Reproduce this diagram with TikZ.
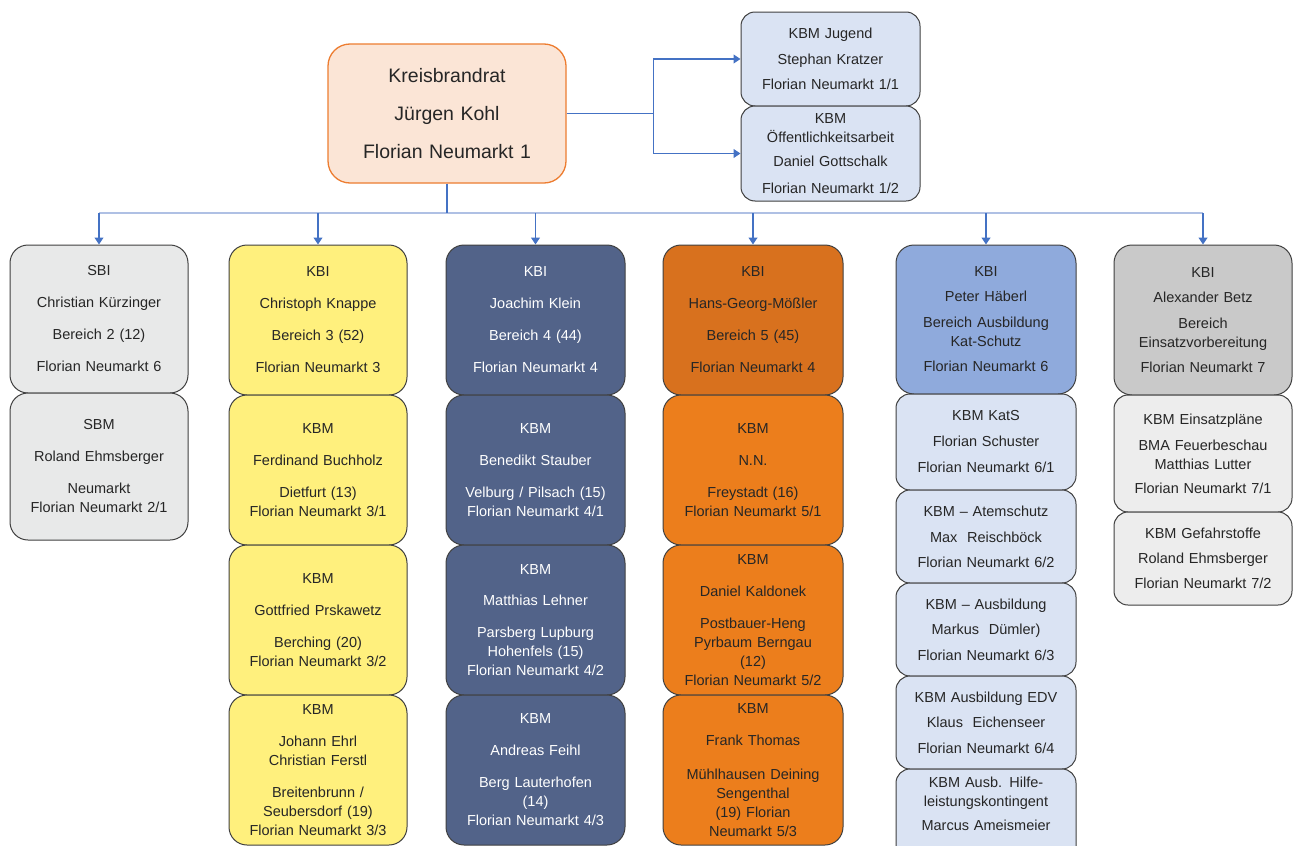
\documentclass[tikz,border=0pt]{standalone}
\usepackage{fontspec}
\setmainfont{Liberation Sans}
\usetikzlibrary{arrows.meta}
\definecolor{txt}{HTML}{262626}
\definecolor{edge}{HTML}{404040}
\definecolor{rootfill}{HTML}{FBE5D6}
\definecolor{rootedge}{HTML}{ED7D31}
\definecolor{lblue}{HTML}{DAE3F3}
\definecolor{mblue}{HTML}{8FAADC}
\definecolor{dblue}{HTML}{526389}
\definecolor{lgray}{HTML}{E8E9E9}
\definecolor{mgray}{HTML}{C9C9C9}
\definecolor{vlgray}{HTML}{EDEDED}
\definecolor{yel}{HTML}{FFF07D}
\definecolor{orA}{HTML}{D8711E}
\definecolor{orB}{HTML}{EC7E1C}
\definecolor{conncol}{HTML}{4472C4}
\definecolor{buscol}{HTML}{AFC0E4}
\tikzset{
  box/.style={draw=edge,line width=1pt,rounded corners=18pt,inner sep=0pt,align=center,
    text=txt,font=\fontsize{14.5}{19}\selectfont},
  sbox/.style={box,rounded corners=14pt},
  conn/.style={draw=conncol,line width=1.2pt},
  arr/.style={conn,-{Triangle[width=9pt,length=7pt]}},
  busline/.style={draw=buscol,line width=1.4pt}
}
\newcommand\bx[7]{%
  \pgfmathsetmacro\bxw{#5-#3}\pgfmathsetmacro\bxh{#6-#4}%
  \pgfmathsetmacro\bxx{(#3+#5)/2}\pgfmathsetmacro\bxy{(#4+#6)/2}%
  \pgfmathsetmacro\bxt{#5-#3-8}%
  \node[box,#2,minimum width=\bxw pt,minimum height=\bxh pt,text width=\bxt pt] (#1) at (\bxx,\bxy) {#7};}
\begin{document}
\begin{tikzpicture}[x=1pt,y=-1pt]
\path[use as bounding box,clip] (0,0) rectangle (1296,846);
\fill[white] (0,0) rectangle (1296,846);
% top
\bx{root}{fill=rootfill,draw=rootedge,line width=1.3pt,rounded corners=22pt,font=\fontsize{19.5}{24}\selectfont}{328}{44}{566}{183}{Kreisbrandrat\\[14pt]Jürgen Kohl\\[14pt]Florian Neumarkt 1}
\bx{jug}{sbox,fill=lblue}{741}{12}{920}{106}{KBM Jugend\\[7pt]Stephan Kratzer\\[6pt]Florian Neumarkt 1/1}
\bx{oef}{sbox,fill=lblue}{741}{106}{920}{201}{KBM\\Öffentlichkeitsarbeit\\[5pt]Daniel Gottschalk\\[8pt]Florian Neumarkt 1/2}
% column 1
\bx{c1a}{fill=lgray}{10}{245}{188}{393}{SBI\\[13pt]Christian Kürzinger\\[13pt]Bereich 2 (12)\\[13pt]Florian Neumarkt 6}
\bx{c1b}{fill=lgray}{10}{393}{188}{540}{SBM\\[13pt]Roland Ehmsberger\\[13pt]Neumarkt\\Florian Neumarkt 2/1}
% column 2
\bx{c2a}{fill=yel}{229}{245}{407}{395}{KBI\\[13pt]Christoph Knappe\\[13pt]Bereich 3 (52)\\[13pt]Florian Neumarkt 3}
\bx{c2b}{fill=yel}{229}{395}{407}{545}{KBM\\[13pt]Ferdinand Buchholz\\[13pt]Dietfurt (13)\\Florian Neumarkt 3/1}
\bx{c2c}{fill=yel}{229}{545}{407}{695}{KBM\\[13pt]Gottfried Prskawetz\\[13pt]Berching (20)\\Florian Neumarkt 3/2}
\bx{c2d}{fill=yel}{229}{695}{407}{845}{KBM\\[13pt]Johann Ehrl\\Christian Ferstl\\[13pt]Breitenbrunn /\\Seubersdorf (19)\\Florian Neumarkt 3/3}
% column 3
\bx{c3a}{fill=dblue,text=white}{446}{245}{625}{395}{KBI\\[13pt]Joachim Klein\\[13pt]Bereich 4 (44)\\[13pt]Florian Neumarkt 4}
\bx{c3b}{fill=dblue,text=white}{446}{395}{625}{545}{KBM\\[13pt]Benedikt Stauber\\[13pt]Velburg / Pilsach (15)\\Florian Neumarkt 4/1}
\bx{c3c}{fill=dblue,text=white}{446}{545}{625}{695}{KBM\\[12pt]Matthias Lehner\\[13pt]Parsberg Lupburg\\Hohenfels (15)\\Florian Neumarkt 4/2}
\bx{c3d}{fill=dblue,text=white}{446}{695}{625}{845}{KBM\\[13pt]Andreas Feihl\\[13pt]Berg Lauterhofen\\(14)\\Florian Neumarkt 4/3}
% column 4
\bx{c4a}{fill=orA}{663}{245}{843}{395}{KBI\\[13pt]Hans-Georg-Mößler\\[13pt]Bereich 5 (45)\\[13pt]Florian Neumarkt 4}
\bx{c4b}{fill=orB}{663}{395}{843}{545}{KBM\\[13pt]N.N.\\[13pt]Freystadt (16)\\Florian Neumarkt 5/1}
\bx{c4c}{fill=orB}{663}{545}{843}{695}{KBM\\[13pt]Daniel Kaldonek\\[13pt]Postbauer-Heng\\Pyrbaum Berngau\\(12)\\Florian Neumarkt 5/2}
\bx{c4d}{fill=orB}{663}{695}{843}{845}{KBM\\[13pt]Frank Thomas\\[15pt]Mühlhausen Deining\\Sengenthal\\(19) Florian\\Neumarkt 5/3}
% column 5
\bx{c5a}{fill=mblue}{896}{245}{1076}{394}{KBI\\[6pt]Peter Häberl\\[7pt]Bereich Ausbildung\\Kat-Schutz\\[6pt]Florian Neumarkt 6}
\bx{c5b}{sbox,fill=lblue}{896}{394}{1076}{490}{KBM KatS\\[7pt]Florian Schuster\\[7pt]Florian Neumarkt 6/1}
\bx{c5c}{sbox,fill=lblue}{896}{490}{1076}{583}{KBM – Atemschutz\\[7pt]Max~~Reischböck\\[6pt]Florian Neumarkt 6/2}
\bx{c5d}{sbox,fill=lblue}{896}{583}{1076}{676}{KBM – Ausbildung\\[6pt]Markus~~Dümler)\\[7pt]Florian Neumarkt 6/3}
\bx{c5e}{sbox,fill=lblue}{896}{676}{1076}{769}{KBM Ausbildung EDV\\[6pt]Klaus~~Eichenseer\\[7pt]Florian Neumarkt 6/4}
\bx{c5f}{sbox,fill=lblue}{896}{769}{1076}{864}{KBM Ausb. Hilfe-\\leistungskontingent\\[5pt]Marcus Ameismeier\\[6pt]\phantom{Florian Neumarkt 6/5}}
% column 6
\bx{c6a}{fill=mgray}{1114}{245}{1292}{395}{KBI\\[6pt]Alexander Betz\\[7pt]Bereich\\Einsatzvorbereitung\\[6pt]Florian Neumarkt 7}
\bx{c6b}{sbox,fill=vlgray}{1114}{395}{1292}{512}{KBM Einsatzpläne\\[7pt]BMA Feuerbeschau\\Matthias Lutter\\[5pt]Florian Neumarkt 7/1}
\bx{c6c}{sbox,fill=vlgray}{1114}{512}{1292}{605}{KBM Gefahrstoffe\\[6pt]Roland Ehmsberger\\[6pt]Florian Neumarkt 7/2}
% connectors
\draw[conn] (root.east) -- ++(87,0) coordinate (rj);
\draw[arr] (rj) |- (jug.west);
\draw[arr] (rj) |- (oef.west);
\coordinate (bus) at (447,213);
\draw[busline] (c1a.north |- bus) -- (c6a.north |- bus);
\draw[conn] (root.south) -- (bus);
\foreach \n in {c1a,c2a,c3a,c4a,c5a,c6a}{\draw[arr] (\n.north |- bus) -- (\n.north);}
\end{tikzpicture}
\end{document}
